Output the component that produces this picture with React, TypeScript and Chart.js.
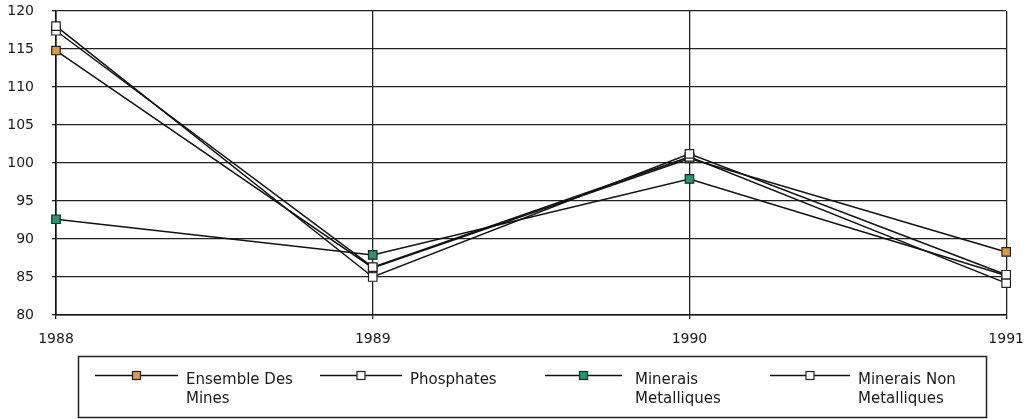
import React, { useEffect, useRef } from "react";
import { Chart, registerables } from "chart.js";

Chart.register(...registerables);

const YEARS = ["1988", "1989", "1990", "1991"];
const SERIES_NAMES = ["Ensemble Des Mines", "Phosphates", "Minerais Metalliques", "Minerais Non Metalliques"];
const ENSEMBLE = [114.8, 86.2, 100.6, 88.3];
const PHOSPHATES = [118.0, 85.0, 101.2, 85.3];
const METALLIQUES = [92.6, 87.9, 97.9, 85.2];
const NON_METALLIQUES = [117.4, 86.3, 100.8, 84.2];
const FILLS = ["#e09a3c", "#ffffff", "#1f9a72", "#ffffff"];
const Y_MIN = 80;
const Y_MAX = 120;
const Y_STEP = 5;

const FONT = "'DejaVu Sans', sans-serif";

const legendPlugin = {
  id: "boxLegend",
  afterDraw(chart: any) {
    const ctx = chart.ctx;
    ctx.save();
    ctx.strokeStyle = "#222";
    ctx.lineWidth = 1.5;
    ctx.strokeRect(78.5, 356.5, 908, 61);
    const lineStarts = [95, 320, 545, 770];
    const lineEnds = [178, 402, 622, 850];
    const textX = [186, 410, 635, 858];
    const lineY = 375.5;
    ctx.font = "15px " + FONT;
    chart.data.datasets.forEach((ds: any, i: number) => {
      ctx.strokeStyle = "#111";
      ctx.lineWidth = 1.3;
      ctx.beginPath();
      ctx.moveTo(lineStarts[i], lineY);
      ctx.lineTo(lineEnds[i], lineY);
      ctx.stroke();
      const mx = (lineStarts[i] + lineEnds[i]) / 2;
      ctx.fillStyle = ds.pointBackgroundColor;
      ctx.fillRect(mx - 4, lineY - 4, 8, 8);
      ctx.strokeStyle = "#222";
      ctx.lineWidth = 1.2;
      ctx.strokeRect(mx - 4, lineY - 4, 8, 8);
      const words = String(ds.label).split(" ");
      const lines: string[] = [];
      let cur = "";
      words.forEach((w) => {
        const test = cur ? cur + " " + w : w;
        if (cur && ctx.measureText(test).width > 120) {
          lines.push(cur);
          cur = w;
        } else cur = test;
      });
      if (cur) lines.push(cur);
      ctx.fillStyle = "#1a1a1a";
      ctx.textBaseline = "middle";
      ctx.textAlign = "left";
      lines.forEach((l, k) => ctx.fillText(l, textX[i], 380 + k * 19));
    });
    ctx.restore();
  },
};

export default function App() {
  const ref = useRef<HTMLCanvasElement>(null);
  useEffect(() => {
    document.body.style.margin = "0";
    const values = [ENSEMBLE, PHOSPHATES, METALLIQUES, NON_METALLIQUES];
    const orders = [4, 1, 3, 2];
    const chart = new Chart(ref.current!, {
      type: "line",
      data: {
        labels: YEARS,
        datasets: SERIES_NAMES.map((name, i) => ({
          label: name,
          data: values[i],
          borderColor: "#111",
          borderWidth: 1.5,
          pointStyle: "rect",
          pointRadius: 6,
          pointBackgroundColor: FILLS[i],
          pointBorderColor: "#222",
          pointBorderWidth: 1.2,
          tension: 0,
          fill: false,
          order: orders[i],
        })),
      },
      options: {
        animation: false,
        responsive: false,
        layout: { padding: { top: 11, right: 28, left: 0, bottom: 0 } },
        plugins: { legend: { display: false }, tooltip: { enabled: false } },
        scales: {
          x: {
            type: "category",
            offset: false,
            grid: { color: "#222", lineWidth: 1.3, tickLength: 4 },
            border: { display: true, color: "#111", width: 1.6 },
            ticks: { color: "#1a1a1a", font: { family: FONT, size: 14 }, padding: 12, maxRotation: 0 },
            afterFit: (s: any) => {
              s.height = 104;
            },
          },
          y: {
            min: Y_MIN,
            max: Y_MAX,
            grid: { color: "#222", lineWidth: 1.3, tickLength: 4 },
            border: { display: true, color: "#111", width: 1.6 },
            ticks: { stepSize: Y_STEP, color: "#1a1a1a", font: { family: FONT, size: 14 }, padding: 18 },
            afterFit: (s: any) => {
              s.width = 56;
              s.paddingTop = 8;
              s.paddingBottom = 8;
            },
          },
        },
      },
      plugins: [legendPlugin],
    });
    return () => chart.destroy();
  }, []);
  return (
    <canvas
      ref={ref}
      width={1036}
      height={419}
      style={{ position: "absolute", left: 0, top: 0, display: "block", background: "#fff" }}
    />
  );
}
